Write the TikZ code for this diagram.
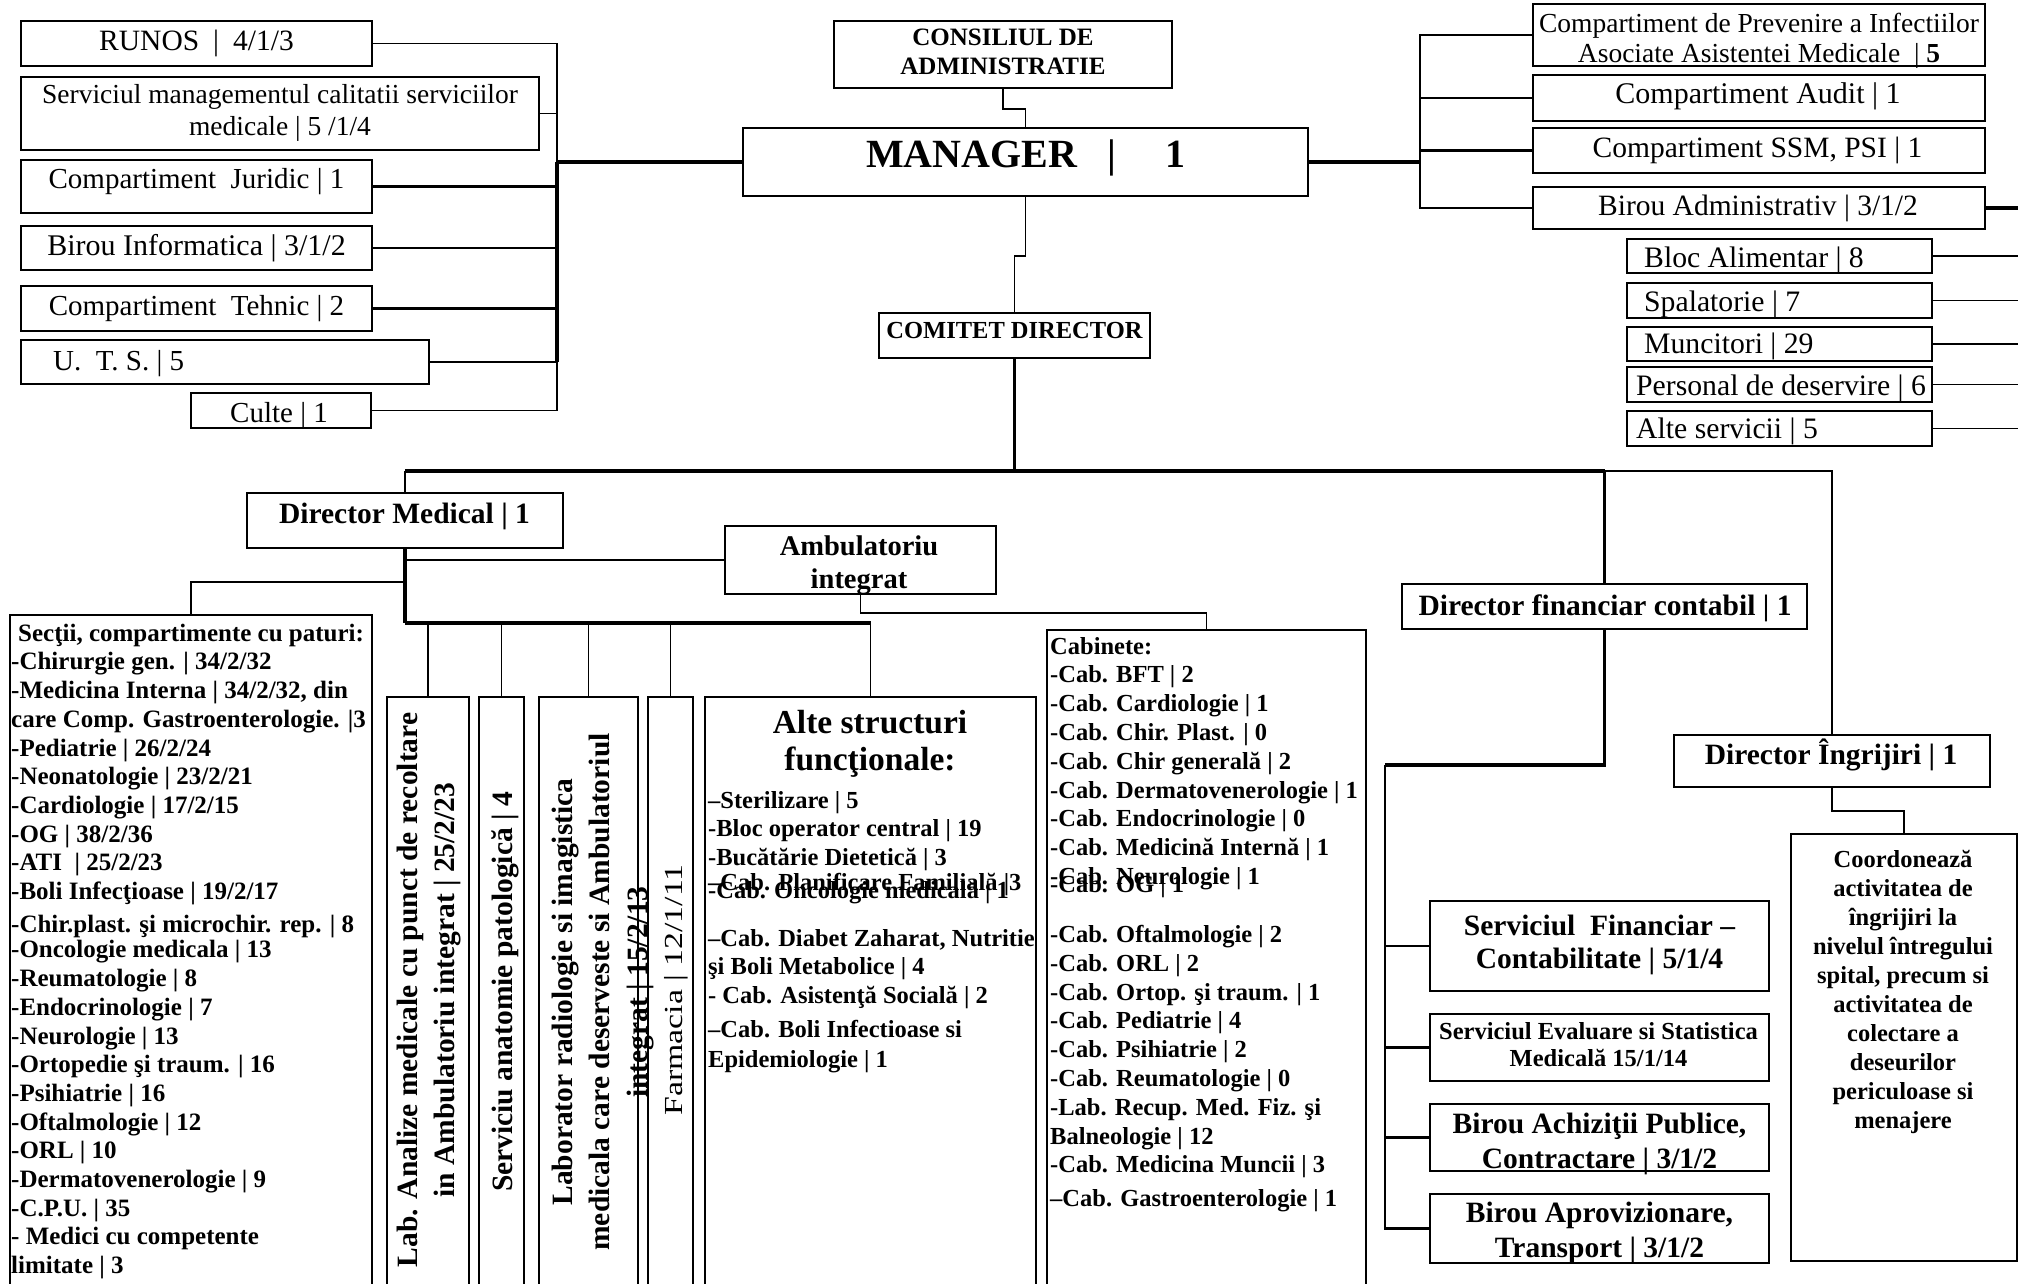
\documentclass[tikz,border=0pt]{standalone}
\usepackage{fontspec}
\setmainfont{Liberation Serif}
\newfontfamily\farmfont[FakeStretch=1.3]{Liberation Serif}
\newcommand\myfs[2]{\fontsize{#1pt}{#2pt}\selectfont}
\begin{document}
\begin{tikzpicture}[x=1pt,y=-1pt,
  box/.style={draw,line width=1.8pt,inner sep=0pt,anchor=center},
  tx/.style={inner sep=0pt,anchor=base},
  mt/.style={inner sep=0pt,anchor=north,align=center},
  lt/.style={inner sep=0pt,anchor=north west,align=left},
  thinln/.style={line width=1.8pt},
  midln/.style={line width=2.3pt},
  thickln/.style={line width=3.3pt},
]
\useasboundingbox (0,0) rectangle (2018,1283);
\fill[white] (0,0) rectangle (2018,1283);
\clip (0,0) rectangle (2018,1283);

% ---------- boxes ----------
\node[box,minimum width=351pt,minimum height=45pt] (runos) at (196.5,43.5) {};
\node[box,minimum width=518pt,minimum height=73pt] (smc) at (280,113.5) {};
\node[box,minimum width=351pt,minimum height=53pt] (jur) at (196.5,186.5) {};
\node[box,minimum width=351pt,minimum height=44pt] (inf) at (196.5,248) {};
\node[box,minimum width=351pt,minimum height=45pt] (teh) at (196.5,308.5) {};
\node[box,minimum width=408pt,minimum height=44pt] (uts) at (225,362) {};
\node[box,minimum width=180pt,minimum height=35pt] (cul) at (281,410.5) {};

\node[box,minimum width=338pt,minimum height=67pt] (cons) at (1003,54.5) {};
\node[box,minimum width=565pt,minimum height=68pt] (mgr) at (1025.5,162) {};
\node[box,minimum width=271pt,minimum height=45pt] (com) at (1014.5,335.5) {};

\node[box,minimum width=452pt,minimum height=62pt] (prev) at (1759,35) {};
\node[box,minimum width=452pt,minimum height=46pt] (aud) at (1759,98) {};
\node[box,minimum width=452pt,minimum height=45pt] (ssm) at (1759,150.5) {};
\node[box,minimum width=452pt,minimum height=42pt] (badm) at (1759,208) {};
\node[box,minimum width=305pt,minimum height=34pt] (bloc) at (1779.5,256) {};
\node[box,minimum width=305pt,minimum height=35pt] (spal) at (1779.5,300.5) {};
\node[box,minimum width=305pt,minimum height=34pt] (munc) at (1779.5,344) {};
\node[box,minimum width=305pt,minimum height=35pt] (pers) at (1779.5,384.5) {};
\node[box,minimum width=305pt,minimum height=35pt] (alts) at (1779.5,428.5) {};

\node[box,minimum width=316pt,minimum height=55pt] (dmed) at (405,520.5) {};
\node[box,minimum width=271pt,minimum height=68pt] (amb) at (860.5,560) {};
\node[box,minimum width=362pt,minimum height=685pt] (sec) at (191,957.5) {};
\node[box,minimum width=82pt,minimum height=603pt] (lab1) at (428,998.5) {};
\node[box,minimum width=45pt,minimum height=603pt] (lab2) at (501.5,998.5) {};
\node[box,minimum width=99pt,minimum height=603pt] (lab3) at (588.5,998.5) {};
\node[box,minimum width=45pt,minimum height=603pt] (lab4) at (670.5,998.5) {};
\node[box,minimum width=331pt,minimum height=603pt] (alte) at (870.5,998.5) {};
\node[box,minimum width=319pt,minimum height=670pt] (cab) at (1206.5,965) {};

\node[box,minimum width=405pt,minimum height=45pt] (dfin) at (1604.5,606.5) {};
\node[box,minimum width=316pt,minimum height=52pt] (dingr) at (1832,761) {};
\node[box,minimum width=226pt,minimum height=427pt] (coord) at (1904,1047.5) {};
\node[box,minimum width=339pt,minimum height=90pt] (sfin) at (1599.5,946) {};
\node[box,minimum width=339pt,minimum height=67pt] (seval) at (1599.5,1047.5) {};
\node[box,minimum width=339pt,minimum height=67pt] (bach) at (1599.5,1137.5) {};
\node[box,minimum width=339pt,minimum height=69pt] (bapr) at (1599.5,1228.5) {};

% ---------- connectors ----------
\coordinate (lb) at (557,162);
\draw[thickln] (mgr.west) -- (lb);
\draw[thinln] (runos.east) -| (lb);
\draw[thinln] (smc.east) -- (smc.east -| lb);
\draw[midln] (jur.east) -- (jur.east -| lb);
\draw[midln] (inf.east) -- (inf.east -| lb);
\draw[midln] (teh.east) -- (teh.east -| lb);
\draw[midln] (uts.east) -- (uts.east -| lb);
\draw[thinln] (cul.east) -| (lb);
\draw[thickln] (lb) -- (lb |- uts.east);

\draw[thinln] (cons.south) -- ++(0,20) -| (mgr.north);
\draw[thinln] (mgr.south) -- ++(0,59) -| (com.north);

\coordinate (rb) at (1420,162);
\draw[thickln] (mgr.east) -- (rb);
\draw[midln] (prev.west) -| (rb);
\draw[midln] (badm.west) -| (rb);
\draw[midln] (aud.west) -- (aud.west -| rb);
\draw[midln] (ssm.west) -- (ssm.west -| rb);
\coordinate (redge) at (2030,0);
\draw[thickln] (badm.east) -- (badm.east -| redge);
\foreach \n in {bloc,spal,munc,pers,alts} {\draw[thinln] (\n.east) -- (\n.east -| redge);}

\coordinate (cb) at (1014.5,471);
\coordinate (fb) at (1604.5,471);
\coordinate (mb) at (405,471);
\draw[thickln] (com.south) -- (cb);
\draw[thickln] (mb) -- (fb);
\draw[thinln] (fb) -| (dingr.north);
\draw[midln] (fb) -- (dfin.north);
\draw[thinln] (mb) -- (dmed.north);

\coordinate (db) at (405,623);
\coordinate (sj) at (405,582);
\draw[thickln] (dmed.south) -- (db);
\draw[thinln] (amb.west) -- (amb.west -| db);
\draw[midln] (sj) -| (sec.north);
\draw[thickln] (db) -- (db -| alte.north);
\foreach \n in {lab1,lab2,lab3,lab4,alte} {\draw[thinln] (\n.north |- db) -- (\n.north);}
\draw[thinln] (amb.south) -- ++(0,18) -| (cab.north);

\coordinate (fl) at (1385,765);
\draw[thickln] (dfin.south) |- (fl);
\draw[midln] (fl) |- (bapr.west);
\foreach \n in {sfin,seval,bach} {\draw[midln] (\n.west) -- (\n.west -| fl);}

\draw[thinln] (dingr.south) -- ++(0,23) -| (coord.north);

% ---------- texts ----------
\node[tx,font=\myfs{29.5}{34}] (runos-t) at (196.5,50) {RUNOS\hspace{14pt}|\hspace{14pt}4/1/3};
\node[mt,font=\myfs{27.5}{32}] (smc-t) at (280,80.6) {\strut Serviciul managementul calitatii serviciilor\\medicale | 5 /1/4};
\node[tx,font=\myfs{29}{34}] (jur-t) at (196.5,188) {Compartiment\ \ Juridic | 1};
\node[tx,font=\myfs{30}{34}] (inf-t) at (196.5,255) {Birou Informatica | 3/1/2};
\node[tx,font=\myfs{29}{34}] (teh-t) at (196.5,315) {Compartiment\ \ Tehnic | 2};
\node[tx,anchor=base west,font=\myfs{29}{34}] (uts-t) at (53,370) {U.\ \ T. S. | 5};
\node[tx,font=\myfs{29}{34}] (cul-t) at (279,422) {Culte | 1};

\node[mt,font=\bfseries\myfs{25}{29}] (cons-t) at (1003,24.7) {\strut CONSILIUL DE\\ADMINISTRATIE};
\node[tx,font=\bfseries\myfs{40}{46}] (mgr-t) at (1026,167) {MANAGER\hspace{30pt}|\hspace{50pt}1};
\node[tx,font=\bfseries\myfs{24.5}{28}] (com-t) at (1014.5,338) {COMITET DIRECTOR};

\node[mt,font=\myfs{27.5}{30}] (prev-t) at (1759,11) {\strut Compartiment de Prevenire a Infectiilor\\Asociate Asistentei Medicale\ \ | \textbf{5}};
\node[tx,font=\myfs{30}{34}] (aud-t) at (1758,103) {Compartiment Audit | 1};
\node[tx,font=\myfs{29.5}{34}] (ssm-t) at (1757.5,157) {Compartiment SSM, PSI | 1};
\node[tx,font=\myfs{29.5}{34}] (badm-t) at (1758,215) {Birou Administrativ | 3/1/2};
\node[tx,anchor=base west,font=\myfs{29.7}{34}] (bloc-t) at (1644,267) {Bloc Alimentar | 8};
\node[tx,anchor=base west,font=\myfs{29.7}{34}] (spal-t) at (1644,311) {Spalatorie | 7};
\node[tx,anchor=base west,font=\myfs{29.7}{34}] (munc-t) at (1644,353) {Muncitori | 29};
\node[tx,anchor=base west,font=\myfs{29.7}{34}] (pers-t) at (1636,395) {Personal de deservire | 6};
\node[tx,anchor=base west,font=\myfs{29.7}{34}] (alts-t) at (1636,438) {Alte servicii | 5};

\node[tx,font=\bfseries\myfs{29.5}{34}] (dmed-t) at (404.5,523) {Director Medical | 1};
\node[mt,font=\bfseries\myfs{28.5}{33}] (amb-t) at (859,531.9) {\strut Ambulatoriu\\integrat};

\node[lt,font=\bfseries\myfs{25}{28.7}] (sec-t) at (11,620.9) {\hspace*{7pt}\strut Secţii, compartimente cu paturi:\\
-Chirurgie gen. | 34/2/32\\
-Medicina Interna | 34/2/32, din\\
care Comp. Gastroenterologie. |3\\
-Pediatrie | 26/2/24\\
-Neonatologie | 23/2/21\\
-Cardiologie | 17/2/15\\
-OG | 38/2/36\\
-ATI\ \ | 25/2/23\\
-Boli Infecţioase | 19/2/17\\[4pt]
-Chir.plast. şi microchir. rep. | 8\\[-3pt]
-Oncologie medicala | 13\\
-Reumatologie | 8\\
-Endocrinologie | 7\\
-Neurologie | 13\\
-Ortopedie şi traum. | 16\\
-Psihiatrie | 16\\
-Oftalmologie | 12\\
-ORL | 10\\
-Dermatovenerologie | 9\\
-C.P.U. | 35\\
- Medici cu competente\\
limitate | 3};

\node[inner sep=0pt,rotate=90,anchor=north,align=center,font=\bfseries\myfs{29.5}{37}] (lab1-t) at (391.6,990) {\strut Lab. Analize medicale cu punct de recoltare\\in Ambulatoriu integrat | 25/2/23};
\node[tx,rotate=90,font=\bfseries\myfs{29.5}{34}] (lab2-t) at (512,992) {Serviciu anatomie patologică | 4};
\node[inner sep=0pt,rotate=90,anchor=north,align=center,font=\bfseries\myfs{29.5}{37.5}] (lab3-t) at (545.75,992) {\strut Laborator radiologie si imagistica\\medicala care deserveste si Ambulatoriul\\integrat | 15/2/13};
\node[tx,rotate=90,font=\farmfont\myfs{26}{30}] (lab4-t) at (682,990) {Farmacia | 12/1/11};

\node[mt,font=\bfseries\myfs{33.5}{37}] (alte-h) at (870,707.1) {\strut Alte structuri\\funcţionale:};
\node[lt,font=\bfseries\myfs{24.5}{28.5}] (alte-t) at (708,788) {\strut –Sterilizare | 5\\
-Bloc operator central | 19\\
-Bucătărie Dietetică | 3\\[-3.5pt]
–Cab. Planificare Familială |3\\[-20.5pt]
-Cab. Oncologie medicală | 1\\[19.5pt]
–Cab. Diabet Zaharat, Nutritie\\
şi Boli Metabolice | 4\\
- Cab. Asistenţă Socială | 2\\[5.5pt]
–Cab. Boli Infectioase si\\[1.5pt]
Epidemiologie | 1};

\node[lt,font=\bfseries\myfs{24.5}{28.8}] (cab-t) at (1050,633.8) {\strut Cabinete:\\
-Cab. BFT | 2\\
-Cab. Cardiologie | 1\\
-Cab. Chir. Plast. | 0\\
-Cab. Chir generală | 2\\
-Cab. Dermatovenerologie | 1\\
-Cab. Endocrinologie | 0\\
-Cab. Medicină Internă | 1\\
-Cab. Neurologie | 1\\[-20.8pt]
-Cab. OG | 1\\[21.2pt]
-Cab. Oftalmologie | 2\\
-Cab. ORL | 2\\
-Cab. Ortop. şi traum. | 1\\
-Cab. Pediatrie | 4\\
-Cab. Psihiatrie | 2\\
-Cab. Reumatologie | 0\\
-Lab. Recup. Med. Fiz. şi\\
Balneologie | 12\\
-Cab. Medicina Muncii | 3\\[5.2pt]
–Cab. Gastroenterologie | 1};

\node[tx,font=\bfseries\myfs{29.5}{34}] (dfin-t) at (1605,615) {Director financiar contabil | 1};
\node[tx,font=\bfseries\myfs{29.5}{34}] (dingr-t) at (1831,764) {Director Îngrijiri | 1};
\node[mt,font=\bfseries\myfs{29.5}{33}] (sfin-t) at (1599.5,911.9) {\strut Serviciul\ \ Financiar –\\Contabilitate | 5/1/4};
\node[mt,font=\bfseries\myfs{24.5}{27}] (seval-t) at (1598.5,1020.1) {\strut Serviciul Evaluare si Statistica\\Medicală 15/1/14};
\node[mt,font=\bfseries\myfs{29.5}{35}] (bach-t) at (1599.5,1108.5) {\strut Birou Achiziţii Publice,\\Contractare | 3/1/2};
\node[mt,font=\bfseries\myfs{29.5}{35}] (bapr-t) at (1599.5,1197.5) {\strut Birou Aprovizionare,\\Transport | 3/1/2};
\node[mt,font=\bfseries\myfs{24.5}{29}] (coord-t) at (1903,846.7) {\strut Coordonează\\activitatea de\\îngrijiri la\\nivelul întregului\\spital, precum si\\activitatea de\\colectare a\\deseurilor\\periculoase si\\menajere};
\end{tikzpicture}
\end{document}
